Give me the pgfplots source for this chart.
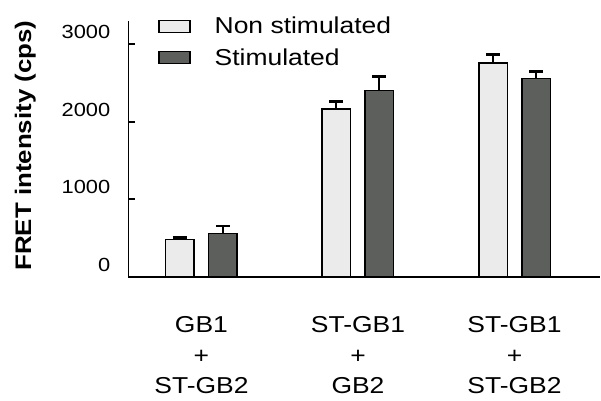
\documentclass[border=0pt]{standalone}
\usepackage{fontspec}
\setmainfont[FakeStretch=1.15]{Liberation Sans}
\usepackage{pgfplots}
\pgfplotsset{compat=1.18}
\definecolor{lightbar}{HTML}{EBEBEB}
\definecolor{darkbar}{HTML}{5D5F5D}
\pgfplotsset{boxlegend/.style={legend image code/.code={\draw[##1] (0bp,-6bp) rectangle (31bp,6bp); \path (53bp,0bp);}}}
\begin{document}
\begin{tikzpicture}
\useasboundingbox (-128.5bp,-124.3bp) rectangle (472.5bp,276.7bp);
\begin{axis}[
  at={(0,0)}, anchor=south west,
  scale only axis, width=471.5bp, height=255.7bp,
  xmin=-0.466, xmax=2.546, ymin=0, ymax=3300,
  axis x line*=bottom, axis y line*=left,
  axis line style={line width=1.6bp, -},
  ybar=14.5bp, bar width=28.5bp,
  xtick={0,1,2},
  xticklabels={GB1\\+\\ST-GB2, ST-GB1\\+\\GB2, ST-GB1\\+\\ST-GB2},
  major x tick style={draw=none},
  xticklabel style={align=center, anchor=north, inner sep=0pt, yshift=-40bp,
    font=\fontsize{23bp}{30.5bp}\selectfont},
  ytick={0,1000,2000,3000},
  yticklabels={0,1000,2000,3000},
  tick align=inside, major tick length=6bp,
  major y tick style={line width=1.6bp, black},
  yticklabel style={anchor=east, inner sep=0pt, xshift=-18bp, yshift=12bp,
    font=\fontsize{19bp}{22bp}\selectfont},
  ylabel={FRET intensity (cps)},
  ylabel style={font=\bfseries\fontsize{22.5bp}{27bp}\selectfont,
    at={(axis description cs:-0.196,0.513)}, anchor=south, inner sep=0pt},
  legend style={at={(axis description cs:0,1)}, anchor=north west,
    xshift=29.5bp, yshift=6bp, draw=none, fill=none, inner sep=0pt,
    row sep=9bp, font=\fontsize{23bp}{26bp}\selectfont},
  legend cell align=left,
  error bars/y dir=plus, error bars/y explicit,
  error bars/error bar style={line width=2bp, black},
  error bars/error mark options={rotate=90, mark size=7bp, line width=2.5bp, black},
]
\addplot[fill=lightbar, draw=black, line width=1.5bp, boxlegend]
  coordinates {(0,483) +- (0,20) (1,2164) +- (0,99) (2,2761) +- (0,109)};
\addlegendentry{Non stimulated}
\addplot[fill=darkbar, draw=black, line width=1.5bp, boxlegend]
  coordinates {(0,560) +- (0,94) (1,2400) +- (0,181) (2,2560) +- (0,90)};
\addlegendentry{Stimulated}
\end{axis}
\end{tikzpicture}
\end{document}
